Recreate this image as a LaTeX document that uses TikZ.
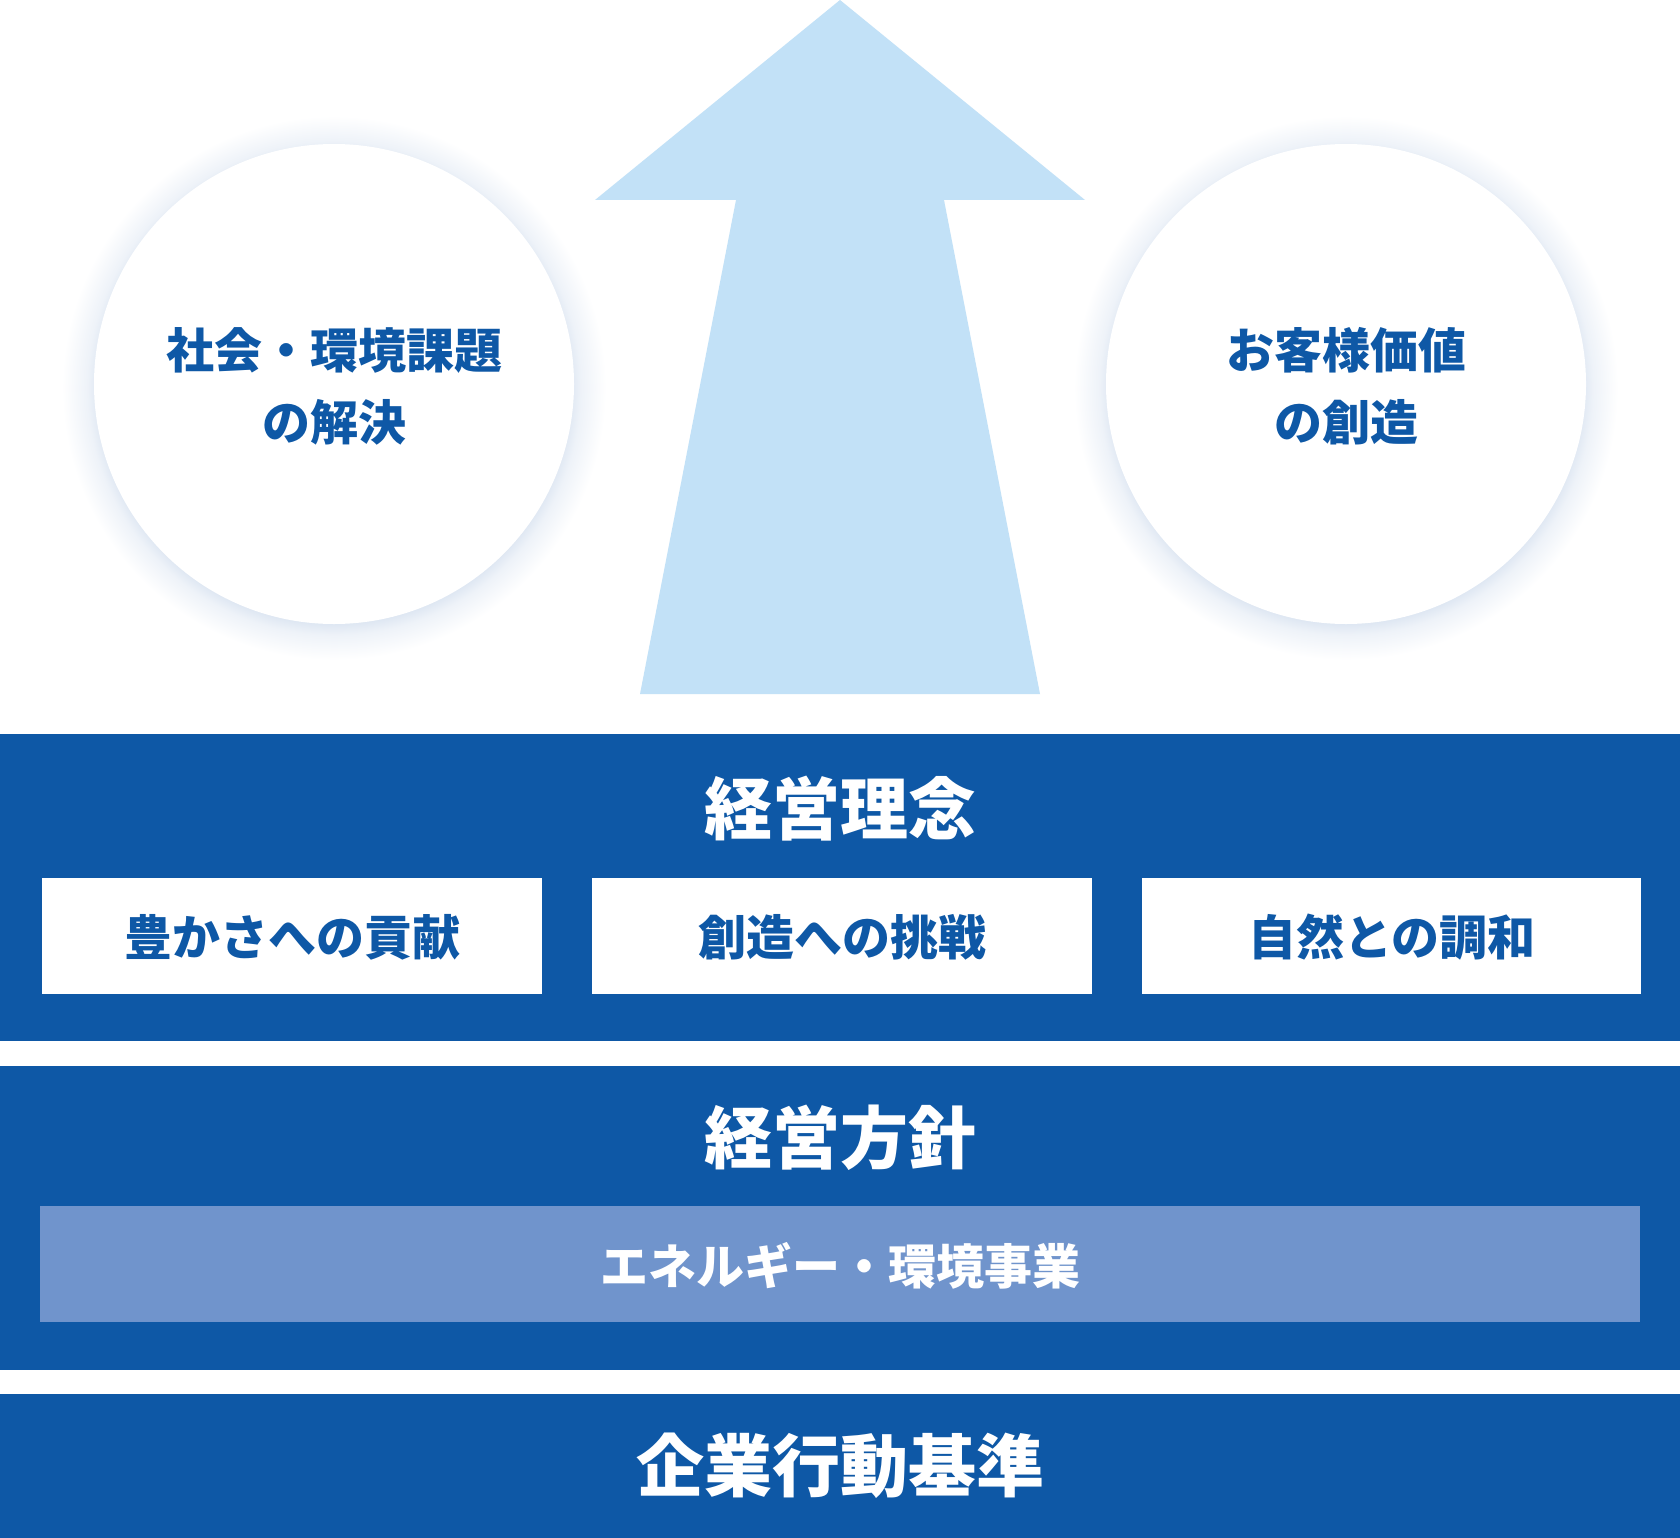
\documentclass[tikz,border=0pt]{standalone}
\usepackage{fontspec}
\setmainfont{Noto Sans CJK JP}
\definecolor{navy}{HTML}{0E58A6}
\definecolor{lightnavy}{HTML}{7094CC}
\definecolor{arrowblue}{HTML}{C2E1F7}
\definecolor{glowc}{HTML}{DDE6F2}
\pgfdeclareradialshading{glowshade}{\pgfpoint{0bp}{0bp}}{color(0bp)=(glowc); color(21.6bp)=(glowc); color(22.7bp)=(glowc!50!white); color(25bp)=(white); color(50bp)=(white)}
\tikzset{
  band/.style={fill=navy, draw=none},
  whitebox/.style={fill=white, draw=none},
  bandtitle/.style={text=white, font=\fontsize{68}{72}\selectfont\bfseries, inner sep=0pt},
  boxtext/.style={text=navy, font=\fontsize{48}{50}\selectfont\bfseries, inner sep=0pt},
  circtext/.style={text=navy, font=\fontsize{48}{72}\selectfont\bfseries, align=center, inner sep=0pt},
  bartext/.style={text=white, font=\fontsize{48}{50}\selectfont\bfseries, inner sep=0pt},
}
\begin{document}
\begin{tikzpicture}[x=1pt, y=-1pt]
\useasboundingbox (0,0) rectangle (1680,1538);
\fill[white] (0,0) rectangle (1680,1538);
% arrow
\fill[arrowblue] (840,0) -- (1085,200) -- (944,200) -- (1040,694) -- (640,694) -- (736,200) -- (595,200) -- cycle;
% circles with glow
\shade[shading=glowshade] (334,388) circle (272);
\shade[shading=glowshade] (1346,388) circle (272);
\node[circle, fill=white, minimum size=480pt, inner sep=0pt] (c1) at (334,384) {};
\node[circle, fill=white, minimum size=480pt, inner sep=0pt] (c2) at (1346,384) {};
\node[circtext] (t1) at (334,386) {社会・環境課題\\の解決};
\node[circtext] (t2) at (1346,386) {お客様価値\\の創造};
% band 1
\fill[band] (0,734) rectangle (1680,1041);
\node[bandtitle] (b1) at (840,809) {経営理念};
\fill[whitebox] (42,878) rectangle (542,994);
\fill[whitebox] (592,878) rectangle (1092,994);
\fill[whitebox] (1142,878) rectangle (1641,994);
\node[boxtext] (p1) at (292,937) {豊かさへの貢献};
\node[boxtext] (p2) at (842,937) {創造への挑戦};
\node[boxtext] (p3) at (1392,937) {自然との調和};
% band 2
\fill[band] (0,1066) rectangle (1680,1370);
\node[bandtitle] (b2) at (840,1138) {経営方針};
\fill[lightnavy] (40,1206) rectangle (1640,1322);
\node[bartext] (e1) at (840,1266) {エネルギー・環境事業};
% band 3
\fill[band] (0,1394) rectangle (1680,1538);
\node[bandtitle] (b3) at (840,1466) {企業行動基準};
\end{tikzpicture}
\end{document}
